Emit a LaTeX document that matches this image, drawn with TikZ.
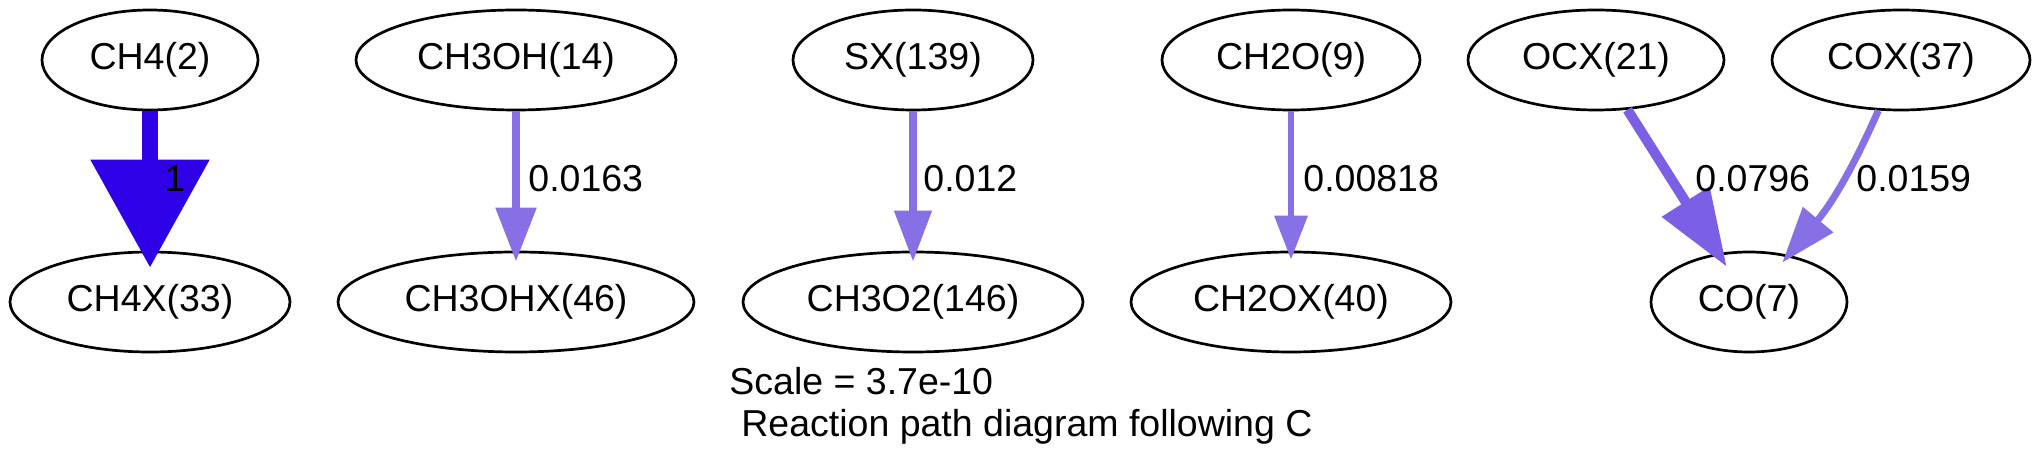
\documentclass[tikz,border=0pt]{standalone}
\usepackage{fontspec}
\setmainfont{Liberation Sans}
\usetikzlibrary{arrows.meta,shapes.geometric}
\definecolor{fmax}{HTML}{2E00E6}
\definecolor{fa}{HTML}{876FE6}
\definecolor{fb}{HTML}{8770E6}
\definecolor{fc}{HTML}{8871E6}
\definecolor{fd}{HTML}{7B60E6}
\begin{document}
\begin{tikzpicture}[x=0.5pt,y=-0.5pt,
  txt/.style={font=\fontsize{18.75}{22}\selectfont},
  sp/.style={txt,draw=black,line width=1.35pt,ellipse,inner sep=0pt,minimum height=50pt,minimum width=#1},
  lab/.style={txt,anchor=base west,inner sep=0pt},
  flux/.style n args={5}{draw=#1,line width=#2,-{Triangle[width=#3,length=#4]},shorten >=#5}
]
\useasboundingbox (0,0) rectangle (2042,469);
% top row
\node[sp=108pt] (ch4)   at (150,60)  {CH4(2)};
\node[sp=160pt] (ch3oh) at (516,60)  {CH3OH(14)};
\node[sp=120pt] (sx)    at (913,60)  {SX(139)};
\node[sp=129pt] (ch2o)  at (1291,60) {CH2O(9)};
\node[sp=128pt] (ocx)   at (1596,60) {OCX(21)};
\node[sp=129pt] (cox)   at (1901,60) {COX(37)};
% bottom row
\node[sp=140pt] (ch4x)   at (150,302)  {CH4X(33)};
\node[sp=178pt] (ch3ohx) at (516,302)  {CH3OHX(46)};
\node[sp=170pt] (ch3o2)  at (913,302)  {CH3O2(146)};
\node[sp=160pt] (ch2ox)  at (1291,302) {CH2OX(40)};
\node[sp=98pt]  (co)     at (1749,302) {CO(7)};
% edges
\draw[flux={fmax}{8pt}{57.5pt}{54pt}{-8.5pt}] (ch4) -- (ch4x);
\draw[flux={fa}{4.25pt}{19.5pt}{27pt}{-5.5pt}] (ch3oh) -- (ch3ohx);
\draw[flux={fb}{3.8pt}{18pt}{25.5pt}{-5.5pt}] (sx) -- (ch3o2);
\draw[flux={fc}{3.35pt}{16pt}{22pt}{-4.5pt}] (ch2o) -- (ch2ox);
\draw[flux={fd}{5pt}{27pt}{38.5pt}{-8pt}] (ocx) -- (co);
\draw[flux={fa}{3.5pt}{19pt}{28pt}{-5pt}] (cox) to[bend left=8] (co);
% labels
\node[lab] (l1) at (164,192) {1};
\node[lab] (l2) at (528,192) {0.0163};
\node[lab] (l3) at (923,192) {0.012};
\node[lab] (l4) at (1303,192) {0.00818};
\node[lab] (l5) at (1695,192) {0.0796};
\node[lab] (l6) at (1856,192) {0.0159};
\node[lab] (scale) at (729,395) {Scale = 3.7e-10};
\node[lab] (title) at (741,437) {Reaction path diagram following C};
\end{tikzpicture}
\end{document}
